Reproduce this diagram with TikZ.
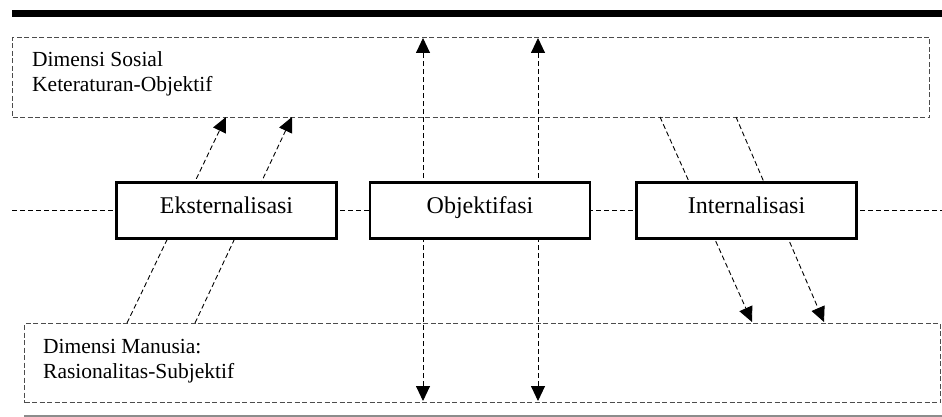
\documentclass[tikz,border=0pt]{standalone}
\usepackage{fontspec}
\setmainfont{Liberation Serif}
\usetikzlibrary{arrows.meta}
\begin{document}
\begin{tikzpicture}[x=1pt,y=-1pt,
  dimbox/.style={draw=black!70, line width=1pt, dash pattern=on 5pt off 2.5pt},
  dline/.style={draw=black, line width=0.9pt, dash pattern=on 5pt off 3pt},
  stage/.style={draw=black, line width=2.2pt, fill=white, minimum width=220pt, minimum height=56pt, inner sep=0pt, text height=0.72em, text depth=0.22em, font=\fontsize{24}{26}\selectfont},
  dimtext/.style={anchor=base west, inner sep=0pt, font=\fontsize{21.5}{24}\selectfont},
  tip/.style={-{Triangle[length=15pt,width=14pt]}},
  dtip/.style={{Triangle[length=15pt,width=14pt]}-{Triangle[length=15pt,width=14pt]}}]
\useasboundingbox (0,0) rectangle (942,417);
% top bar and bottom rule
\fill[black] (12,10) rectangle (942,17);
\draw[black!45, line width=1.3pt] (24,416) -- (942,416);
% dimension boxes
\node[dimbox, minimum width=917pt, minimum height=80pt, inner sep=0pt, anchor=north west] (sos) at (12,37) {};
\node[dimbox, minimum width=916pt, minimum height=79pt, inner sep=0pt, anchor=north west] (man) at (24,323) {};
\node[dimtext] (sos1) at (32,67) {Dimensi Sosial};
\node[dimtext] (sos2) at (32,92) {Keteraturan-Objektif};
\node[dimtext] (man1) at (43,353) {Dimensi Manusia:};
\node[dimtext] (man2) at (43,378) {Rasionalitas-Subjektif};
% coordinates
\coordinate (mL) at (12,210);
\coordinate (mR) at (942,210);
\coordinate (v1t) at (423,38);
\coordinate (v1b) at (423,401);
\coordinate (v2t) at (538,38);
\coordinate (v2b) at (538,401);
\coordinate (e1s) at (127,323);
\coordinate (e1t) at (226,117);
\coordinate (e2s) at (195,323);
\coordinate (e2t) at (292,117);
\coordinate (i1s) at (660,117);
\coordinate (i1t) at (752,322);
\coordinate (i2s) at (736,117);
\coordinate (i2t) at (824,322);
% connectors
\draw[dline] (mL) -- (mR);
\draw[dline, dtip] (v1b) -- (v1t);
\draw[dline, dtip] (v2b) -- (v2t);
\draw[dline, tip] (e1s) -- (e1t);
\draw[dline, tip] (e2s) -- (e2t);
\draw[dline, tip] (i1s) -- (i1t);
\draw[dline, tip] (i2s) -- (i2t);
% stage boxes
\node[stage] (eks) at (226.5,210.5) {Eksternalisasi};
\node[stage] (obj) at (480,210.5) {Objektifasi};
\node[stage] (int) at (746.5,210.5) {Internalisasi};
\end{tikzpicture}
\end{document}
